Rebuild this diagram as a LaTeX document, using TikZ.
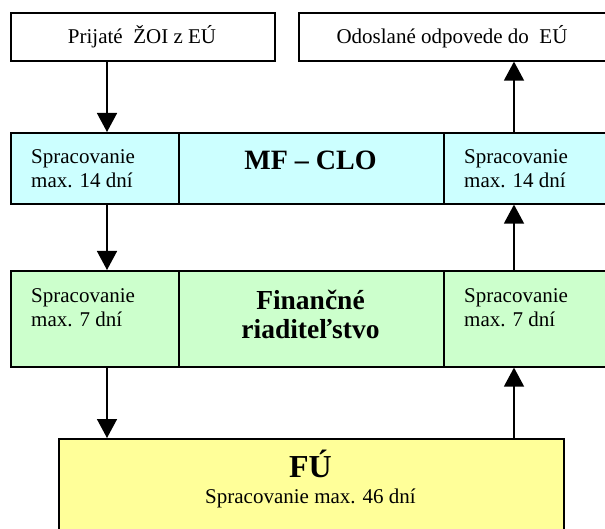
\documentclass[tikz,border=0pt]{standalone}
\usepackage{fontspec}
\setmainfont{Liberation Serif}
\usetikzlibrary{arrows.meta,calc}
\definecolor{cyanbox}{HTML}{CCFFFF}
\definecolor{greenbox}{HTML}{CCFFCC}
\definecolor{yellowbox}{HTML}{FFFF99}
\newcommand{\twolinesL}[2]{\begin{tabular}[t]{@{}l@{}}#1\\#2\end{tabular}}
\newcommand{\twolinesC}[2]{\begin{tabular}[t]{@{}c@{}}#1\\#2\end{tabular}}
\begin{document}
\begin{tikzpicture}[x=1pt,y=-1pt,
  box/.style={draw=black,line width=1.6pt,inner sep=0pt,anchor=north west},
  arr/.style={line width=1.5pt,-{Triangle[width=20pt,length=19pt]}},
  txt/.style={inner sep=0pt,font=\fontsize{21}{23.5}\selectfont,anchor=base west},
  ctxt/.style={inner sep=0pt,font=\fontsize{21}{23}\selectfont,anchor=base},
  bigtxt/.style={inner sep=0pt,font=\fontsize{28}{29}\selectfont\bfseries,anchor=base}]
\useasboundingbox (0,0) rectangle (605,529);
\fill[white] (0,0) rectangle (605,529);
% top boxes
\node[box,minimum width=264pt,minimum height=48pt] (pz) at (10,12) {};
\node[box,minimum width=309pt,minimum height=48pt] (oo) at (298,12) {};
\node[ctxt] (pzt) at (142,44) {Prijaté~ ŽOI z EÚ};
\node[ctxt] (oot) at (452,44) {Odoslané odpovede do~ EÚ};
% MF row
\node[box,fill=cyanbox,minimum width=168pt,minimum height=71pt] (mfl) at (10,132) {};
\node[box,fill=cyanbox,minimum width=265pt,minimum height=71pt] (mfm) at (178,132) {};
\node[box,fill=cyanbox,minimum width=164pt,minimum height=71pt] (mfr) at (443,132) {};
\node[txt] (mflt) at (31,164) {\twolinesL{Spracovanie}{max. 14 dní}};
\node[txt] (mfrt) at (464,164) {\twolinesL{Spracovanie}{max. 14 dní}};
\node[bigtxt] (mfmt) at (310.5,170) {MF – CLO};
% FR row
\node[box,fill=greenbox,minimum width=168pt,minimum height=96pt] (frl) at (10,270) {};
\node[box,fill=greenbox,minimum width=265pt,minimum height=96pt] (frm) at (178,270) {};
\node[box,fill=greenbox,minimum width=164pt,minimum height=96pt] (frr) at (443,270) {};
\node[txt] (frlt) at (31,303) {\twolinesL{Spracovanie}{max. 7 dní}};
\node[txt] (frrt) at (464,303) {\twolinesL{Spracovanie}{max. 7 dní}};
\node[bigtxt,font=\fontsize{27.5}{29.5}\selectfont\bfseries] (frmt) at (310.5,309) {\twolinesC{Finančné}{riaditeľstvo}};
% FU
\node[box,fill=yellowbox,minimum width=505pt,minimum height=100pt] (fu) at (58,438) {};
\node[bigtxt,font=\fontsize{32}{32}\selectfont\bfseries] (fut) at (310.5,477) {FÚ};
\node[ctxt] (fus) at (310.5,503) {Spracovanie max. 46 dní};
% arrows
\coordinate (xl) at (107,0);
\coordinate (xr) at (514,0);
\draw[arr] (pz.south -| xl) -- (mfl.north -| xl);
\draw[arr] (mfl.south -| xl) -- (frl.north -| xl);
\draw[arr] (frl.south -| xl) -- (fu.north -| xl);
\draw[arr] (fu.north -| xr) -- (frr.south -| xr);
\draw[arr] (frr.north -| xr) -- (mfr.south -| xr);
\draw[arr] (mfr.north -| xr) -- (oo.south -| xr);
\end{tikzpicture}
\end{document}
